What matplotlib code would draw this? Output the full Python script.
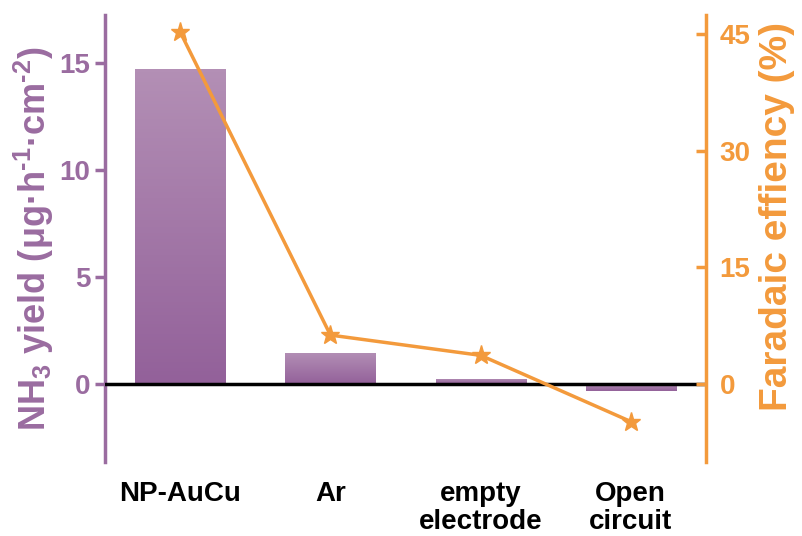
import matplotlib
matplotlib.use('Agg')
import matplotlib.pyplot as plt
import numpy as np
from matplotlib.colors import LinearSegmentedColormap

plt.rcParams['font.family'] = ['Liberation Sans', 'DejaVu Sans']
plt.rcParams['font.weight'] = 'bold'
plt.rcParams['mathtext.fontset'] = 'custom'
plt.rcParams['mathtext.rm'] = 'Liberation Sans:bold'
plt.rcParams['mathtext.it'] = 'Liberation Sans:bold'
plt.rcParams['mathtext.bf'] = 'Liberation Sans:bold'

categories = ['NP-AuCu', 'Ar', 'empty\nelectrode', 'Open\ncircuit']
yield_vals = [14.7, 1.45, 0.25, -0.3]
fe_vals = [45.2, 6.3, 3.7, -4.8]

purple = '#9a6ca0'
orange = '#f39a3c'
grad = LinearSegmentedColormap.from_list('g', ['#93619a', '#b38fb5'])

fig = plt.figure(figsize=(8.03, 5.36), dpi=100)
ax = fig.add_axes([0.131, 0.138, 0.748, 0.834])
x = np.arange(len(categories))
bars = ax.bar(x, yield_vals, width=0.6, color='none', edgecolor='none')
for b in bars:
    x0, y0 = b.get_x(), b.get_y()
    w, h = b.get_width(), b.get_height()
    lo, hi = min(y0, y0 + h), max(y0, y0 + h)
    im = ax.imshow(np.linspace(0, 1, 100).reshape(-1, 1), cmap=grad, aspect='auto',
                   extent=[x0, x0 + w, lo, hi], origin='lower', zorder=1)
    im.set_clip_path(b)
ax.axhline(0, color='black', lw=2.5, zorder=3)
ax.set_xlim(-0.5, 3.5)
ax.set_ylim(-3.64, 17.24)
ax.set_yticks([0, 5, 10, 15])
ax.set_xticks(x)
ax.set_xticklabels(categories, fontsize=20, fontweight='bold', linespacing=1.1)
ax.tick_params(axis='x', length=0, pad=14)
ax.tick_params(axis='y', colors=purple, labelsize=20, width=2.5, length=7, direction='out')
for s in ['top', 'bottom', 'right']:
    ax.spines[s].set_visible(False)
ax.spines['left'].set_color(purple)
ax.spines['left'].set_linewidth(2.5)
ax.set_ylabel('NH$_3$ yield (μg·h$^{\\text{-}1}$·cm$^{\\text{-}2}$)', color=purple, fontsize=26,
              fontweight='bold', labelpad=3)

ax2 = ax.twinx()
ax2.plot(x, fe_vals, color=orange, lw=2.5, marker='*', markersize=14, zorder=4)
ax2.set_ylim(-10.0, 47.4)
ax2.set_yticks([0, 15, 30, 45])
ax2.tick_params(axis='y', colors=orange, labelsize=20, width=2.5, length=7, direction='in', pad=10)
for s in ['top', 'bottom', 'left']:
    ax2.spines[s].set_visible(False)
ax2.spines['right'].set_color(orange)
ax2.spines['right'].set_linewidth(2.5)
ax2.set_ylabel('Faradaic effiency (%)', color=orange, fontsize=28, fontweight='bold', labelpad=6)
ax2.yaxis.label.set_y(0.55)

fig.savefig('out.png', dpi=100)
